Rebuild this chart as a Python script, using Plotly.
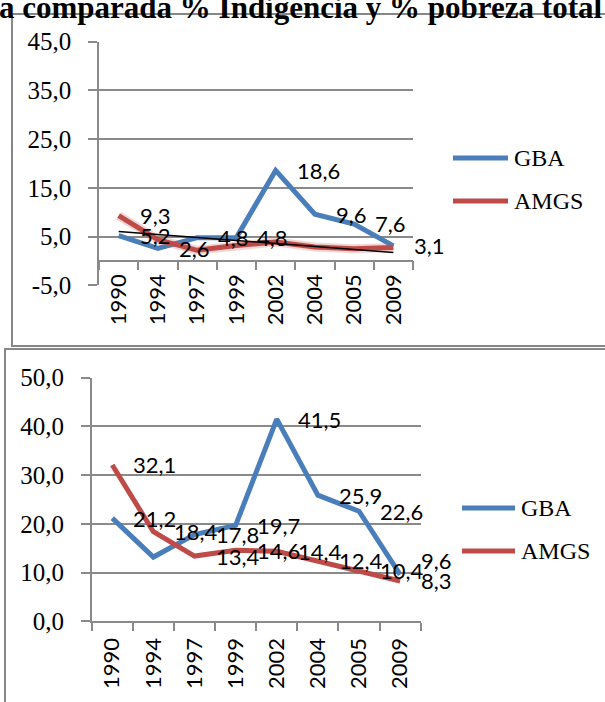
import numpy as np
import plotly.graph_objects as go

# ---------------- data ----------------
years = ["1990", "1994", "1997", "1999", "2002", "2004", "2005", "2009"]
series_names = ["GBA", "AMGS"]

# top chart: % indigencia
ind_gba = [5.2, 2.6, 4.8, 4.8, 18.6, 9.6, 7.6, 3.1]
ind_amgs = [9.3, 4.4, 2.2, 3.2, 3.9, 2.9, 2.5, 2.8]
ind_gba_labeled = [True, True, True, True, True, True, True, True]
ind_amgs_labeled = [True, False, False, False, False, False, False, False]
ind_ticks = [-5, 5, 15, 25, 35, 45]

# bottom chart: % pobreza total
pob_gba = [21.2, 13.2, 17.8, 19.7, 41.5, 25.9, 22.6, 9.6]
pob_amgs = [32.1, 18.4, 13.4, 14.6, 14.4, 12.4, 10.4, 8.3]
pob_gba_labeled = [True, False, True, True, True, True, True, True]
pob_amgs_labeled = [True, True, True, True, True, True, True, True]
pob_ticks = [0, 10, 20, 30, 40, 50]

title_text = "a comparada % Indigencia y % pobreza total"

# ---------------- style ----------------
W, H = 605, 702
BLUE = "#4A7EBB"
RED = "#BE4B48"
GRID = "#8A8A8A"
SERIF = "Liberation Serif"
SANS = "Lato"


def px_x(p):
    return p / W


def px_y(p):
    return 1 - p / H


def fmt(v):
    return f"{v:.1f}".replace(".", ",")


fig = go.Figure()

# linear trend of AMGS (top chart), computed from the data
idx = np.arange(len(years))
slope, intercept = np.polyfit(idx, ind_amgs, 1)
trend = slope * idx + intercept

# top chart traces
fig.add_trace(go.Scatter(x=years, y=ind_gba, mode="lines", line=dict(color=BLUE, width=5),
                         xaxis="x", yaxis="y", showlegend=False, hoverinfo="skip"))
fig.add_trace(go.Scatter(x=years, y=ind_amgs, mode="lines",
                         line=dict(color="rgba(200,90,88,0.25)", width=9),
                         xaxis="x", yaxis="y", showlegend=False, hoverinfo="skip"))
fig.add_trace(go.Scatter(x=years, y=ind_amgs, mode="lines", line=dict(color=RED, width=5),
                         xaxis="x", yaxis="y", showlegend=False, hoverinfo="skip"))
fig.add_trace(go.Scatter(x=years, y=trend, mode="lines", line=dict(color="black", width=1.5),
                         xaxis="x", yaxis="y", showlegend=False, hoverinfo="skip"))

# bottom chart traces
fig.add_trace(go.Scatter(x=years, y=pob_gba, mode="lines", line=dict(color=BLUE, width=5),
                         xaxis="x2", yaxis="y2", showlegend=False, hoverinfo="skip"))
fig.add_trace(go.Scatter(x=years, y=pob_amgs, mode="lines", line=dict(color=RED, width=5),
                         xaxis="x2", yaxis="y2", showlegend=False, hoverinfo="skip"))

annotations = []
label_font = dict(family=SANS, size=22, color="black")
pob_label_shift = {("GBA", "2009"): 14}


def add_labels(values, flags, xr, yr, name, shifts=None):
    # category position given by its index on the category axis
    for i, (yr_, v, f) in enumerate(zip(years, values, flags)):
        if not f:
            continue
        ys = (shifts or {}).get((name, yr_), 0)
        annotations.append(dict(x=i, y=v, xref=xr, yref=yr, text=fmt(v), showarrow=False,
                                xanchor="left", yanchor="middle", xshift=19, yshift=ys,
                                font=label_font))


add_labels(ind_gba, ind_gba_labeled, "x", "y", "GBA")
add_labels(ind_amgs, ind_amgs_labeled, "x", "y", "AMGS")
add_labels(pob_gba, pob_gba_labeled, "x2", "y2", "GBA", pob_label_shift)
add_labels(pob_amgs, pob_amgs_labeled, "x2", "y2", "AMGS", pob_label_shift)

# title (partially cut at the top of the picture)
annotations.append(dict(x=px_x(-3), y=px_y(7), xref="paper", yref="paper", text=title_text,
                        showarrow=False, xanchor="left", yanchor="middle",
                        font=dict(family=SERIF, size=31, color="black", weight="bold")))

shapes = []
# chart frames
shapes.append(dict(type="rect", xref="paper", yref="paper", x0=px_x(12), x1=px_x(640),
                   y0=px_y(346), y1=px_y(14), line=dict(color="#878787", width=2),
                   fillcolor="white", layer="below"))
shapes.append(dict(type="rect", xref="paper", yref="paper", x0=px_x(5), x1=px_x(640),
                   y0=px_y(740), y1=px_y(349), line=dict(color="#878787", width=2),
                   fillcolor="white", layer="below"))

# legends (line samples + text)
legend_pos = [  # (line x0, line x1, text x, y GBA, y AMGS)
    (453, 508, 512, 158, 201),
    (462, 515, 519, 508, 551),
]
for (lx0, lx1, tx, yg, ya) in legend_pos:
    for name, col, yy in zip(series_names, [BLUE, RED], [yg, ya]):
        shapes.append(dict(type="line", xref="paper", yref="paper", x0=px_x(lx0), x1=px_x(lx1),
                           y0=px_y(yy), y1=px_y(yy), line=dict(color=col, width=5)))
        annotations.append(dict(x=px_x(tx), y=px_y(yy), xref="paper", yref="paper", text=name,
                                showarrow=False, xanchor="left", yanchor="middle",
                                font=dict(family=SERIF, size=24, color="black")))

axis_common = dict(showline=True, linecolor=GRID, linewidth=1.5, ticks="outside",
                   tickcolor=GRID, tickwidth=1.5)
n = len(years)

fig.update_layout(
    width=W, height=H, margin=dict(l=0, r=0, t=0, b=0, autoexpand=False),
    paper_bgcolor="white", plot_bgcolor="rgba(0,0,0,0)",
    showlegend=False,
    xaxis=dict(domain=[px_x(99), px_x(413)], anchor="free", position=px_y(260.7),
               type="category", categoryorder="array", categoryarray=years,
               range=[-0.5, n - 0.5],
               tickson="boundaries", ticklen=9, tickangle=-90, showgrid=False,
               tickfont=dict(family=SANS, size=22, color="black"), ticklabelstandoff=4,
               **axis_common),
    yaxis=dict(domain=[px_y(285.4), px_y(41.7)], anchor="x", range=[-5, 45],
               tickvals=ind_ticks, ticktext=[fmt(t) for t in ind_ticks], ticklen=9,
               showgrid=True, gridcolor=GRID, gridwidth=1.5, zeroline=False,
               tickfont=dict(family=SERIF, size=25, color="black"), ticklabelstandoff=12,
               **axis_common),
    xaxis2=dict(domain=[px_x(91.7), px_x(420.7)], anchor="y2",
                type="category", categoryorder="array", categoryarray=years,
                range=[-0.5, n - 0.5],
                tickson="boundaries", ticklen=8, tickangle=-90, showgrid=False,
                tickfont=dict(family=SANS, size=22, color="black"), ticklabelstandoff=6,
                **axis_common),
    yaxis2=dict(domain=[px_y(621.4), px_y(377.7)], anchor="x2", range=[0, 50],
                tickvals=pob_ticks, ticktext=[fmt(t) for t in pob_ticks], ticklen=9,
                showgrid=True, gridcolor=GRID, gridwidth=1.5, zeroline=False,
                tickfont=dict(family=SERIF, size=25, color="black"), ticklabelstandoff=12,
                **axis_common),
    annotations=annotations,
    shapes=shapes,
)

fig.write_html("out.html", config={"displayModeBar": False},
               post_script="document.body.style.margin='0';document.body.style.overflow='hidden';")
